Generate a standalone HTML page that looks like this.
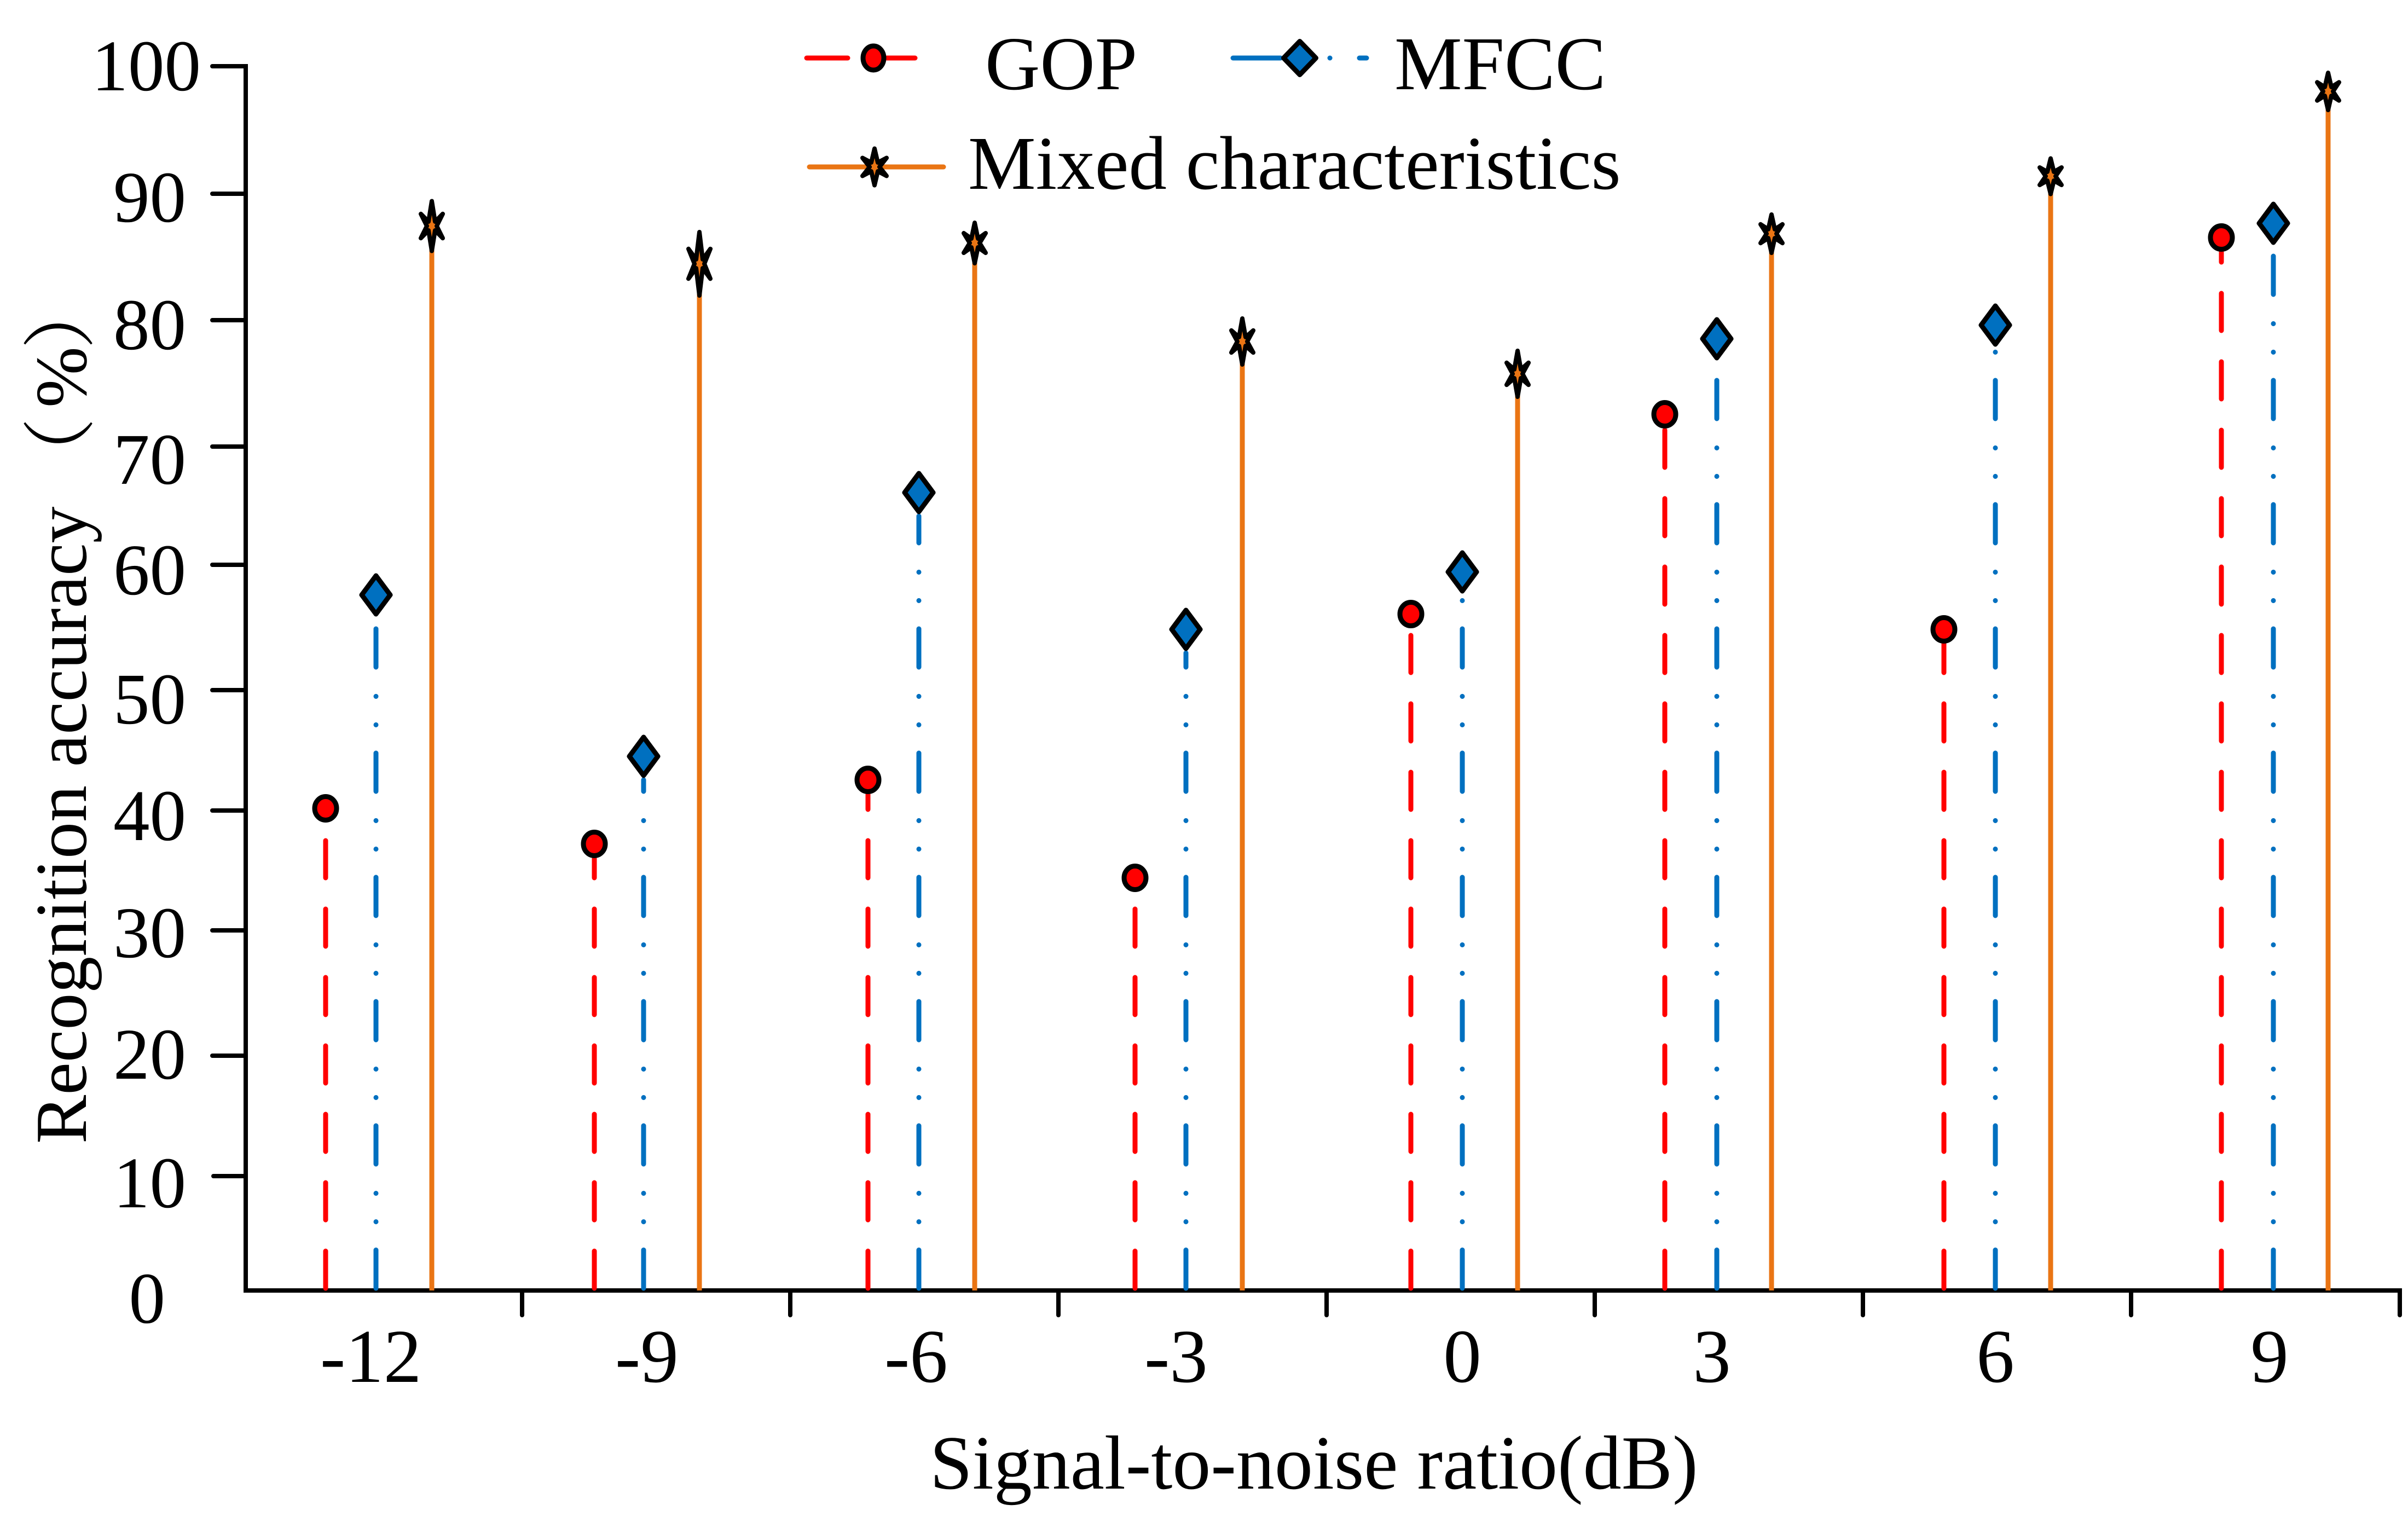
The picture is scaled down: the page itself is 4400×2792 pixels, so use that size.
<!DOCTYPE html>
<html>
<head>
<meta charset="utf-8">
<style>
html,body{margin:0;padding:0;background:#fff;}
svg{display:block;}
text{font-family:"Liberation Serif","Noto Serif CJK SC",serif;fill:#000;}
</style>
</head>
<body>
<svg width="4400" height="2792" viewBox="0 0 4400 2792" xmlns="http://www.w3.org/2000/svg">
<rect x="0" y="0" width="4400" height="2792" fill="#fff"/>

<!-- Axes -->
<g stroke="#000" stroke-width="8" stroke-linecap="round" fill="none">
  <path d="M388 121 H449 V2358 H4385 V2403"/>
  <!-- y ticks -->
  <line x1="388" y1="354" x2="449" y2="354"/>
  <line x1="388" y1="585" x2="449" y2="585"/>
  <line x1="388" y1="816" x2="449" y2="816"/>
  <line x1="388" y1="1032" x2="449" y2="1032"/>
  <line x1="388" y1="1261" x2="449" y2="1261"/>
  <line x1="388" y1="1481" x2="449" y2="1481"/>
  <line x1="388" y1="1700" x2="449" y2="1700"/>
  <line x1="388" y1="1929" x2="449" y2="1929"/>
  <line x1="390" y1="2149" x2="449" y2="2149"/>
  <!-- x ticks -->
  <line x1="954" y1="2358" x2="954" y2="2403"/>
  <line x1="1444" y1="2358" x2="1444" y2="2403"/>
  <line x1="1934" y1="2358" x2="1934" y2="2403"/>
  <line x1="2424" y1="2358" x2="2424" y2="2403"/>
  <line x1="2914" y1="2358" x2="2914" y2="2403"/>
  <line x1="3404" y1="2358" x2="3404" y2="2403"/>
  <line x1="3894" y1="2358" x2="3894" y2="2403"/>
</g>

<!-- Y tick labels -->
<g font-size="133" text-anchor="end">
  <text x="367" y="165">100</text>
  <text x="340" y="405">90</text>
  <text x="340" y="638">80</text>
  <text x="340" y="884">70</text>
  <text x="340" y="1086">60</text>
  <text x="340" y="1322">50</text>
  <text x="340" y="1535">40</text>
  <text x="340" y="1749">30</text>
  <text x="340" y="1971">20</text>
  <text x="340" y="2206">10</text>
  <text x="302" y="2417">0</text>
</g>

<!-- X tick labels -->
<g font-size="139">
  <text x="585" y="2525">-12</text>
  <text x="1124" y="2525">-9</text>
  <text x="1616" y="2525">-6</text>
  <text x="2091" y="2525">-3</text>
  <text x="2672" y="2525" text-anchor="middle">0</text>
  <text x="3128" y="2525" text-anchor="middle">3</text>
  <text x="3646" y="2525" text-anchor="middle">6</text>
  <text x="4147" y="2525" text-anchor="middle">9</text>
</g>

<!-- Axis titles -->
<text x="1699" y="2720" font-size="140">Signal-to-noise ratio(dB)</text>
<text transform="translate(157,2090) rotate(-90)" font-size="134">Recognition accuracy<tspan x="1193">（</tspan><tspan x="1345">%</tspan><tspan x="1452">）</tspan></text>

<!-- Orange stems (Mixed) -->
<g stroke="#EA7514" stroke-width="9" fill="none">
  <line x1="789" y1="2358" x2="789" y2="440"/>
  <line x1="1278" y1="2358" x2="1278" y2="520"/>
  <line x1="1781" y1="2358" x2="1781" y2="470"/>
  <line x1="2270" y1="2358" x2="2270" y2="655"/>
  <line x1="2773" y1="2358" x2="2773" y2="715"/>
  <line x1="3237" y1="2358" x2="3237" y2="455"/>
  <line x1="3747" y1="2358" x2="3747" y2="350"/>
  <line x1="4254" y1="2358" x2="4254" y2="195"/>
</g>

<!-- Red stems (GOP) dashed -->
<g stroke="#FF0000" stroke-width="9" stroke-linecap="round" stroke-dasharray="68 57" fill="none">
  <line x1="595" y1="2354" x2="595" y2="1504"/>
  <line x1="1086" y1="2354" x2="1086" y2="1569"/>
  <line x1="1586" y1="2354" x2="1586" y2="1452"/>
  <line x1="2074" y1="2354" x2="2074" y2="1631"/>
  <line x1="2578" y1="2354" x2="2578" y2="1149"/>
  <line x1="3042" y1="2354" x2="3042" y2="784"/>
  <line x1="3552" y1="2354" x2="3552" y2="1177"/>
  <line x1="4059" y1="2354" x2="4059" y2="461"/>
</g>

<!-- Blue stems (MFCC) dash-dot-dot -->
<g stroke="#0070C0" stroke-width="9" stroke-linecap="round" stroke-dasharray="70 51.5 0.1 51.9 0.1 53.4" fill="none">
  <line x1="687" y1="2354" x2="687" y2="1130"/>
  <line x1="1176" y1="2354" x2="1176" y2="1425"/>
  <line x1="1679" y1="2354" x2="1679" y2="943"/>
  <line x1="2167" y1="2354" x2="2167" y2="1193"/>
  <line x1="2672" y1="2354" x2="2672" y2="1088"/>
  <line x1="3137" y1="2354" x2="3137" y2="662"/>
  <line x1="3646" y1="2354" x2="3646" y2="637"/>
  <line x1="4154" y1="2354" x2="4154" y2="451"/>
</g>

<!-- GOP markers -->
<g fill="#FF0000" stroke="#000" stroke-width="9">
  <ellipse cx="595" cy="1477" rx="20" ry="21.5"/>
  <ellipse cx="1086" cy="1542" rx="20" ry="21.5"/>
  <ellipse cx="1586" cy="1425" rx="20" ry="21.5"/>
  <ellipse cx="2074" cy="1604" rx="20" ry="21.5"/>
  <ellipse cx="2578" cy="1122" rx="20" ry="21.5"/>
  <ellipse cx="3042" cy="757" rx="20" ry="21.5"/>
  <ellipse cx="3552" cy="1150" rx="20" ry="21.5"/>
  <ellipse cx="4059" cy="434" rx="20" ry="21.5"/>
</g>

<!-- MFCC markers -->
<g fill="#0070C0" stroke="#000" stroke-width="9" stroke-linejoin="round">
  <path d="M687 1052 L713 1087 L687 1122 L661 1087 Z"/>
  <path d="M1176 1347 L1202 1382 L1176 1417 L1150 1382 Z"/>
  <path d="M1679 865 L1705 900 L1679 935 L1653 900 Z"/>
  <path d="M2167 1115 L2193 1150 L2167 1185 L2141 1150 Z"/>
  <path d="M2672 1010 L2698 1045 L2672 1080 L2646 1045 Z"/>
  <path d="M3137 584 L3163 619 L3137 654 L3111 619 Z"/>
  <path d="M3646 559 L3672 594 L3646 629 L3620 594 Z"/>
  <path d="M4154 373 L4180 408 L4154 443 L4128 408 Z"/>
</g>

<!-- Mixed markers (stars) -->
<g fill="#EA7514" stroke="#000" stroke-width="8" stroke-linejoin="round">
  <!-- -12: cy 413 h 101 -->
  <path d="M789 367.5 L795 405 L809 390.8 L798 413 L809 435.2 L795 421 L789 458.5 L783 421 L769 435.2 L780 413 L769 390.8 L783 405 Z"/>
  <!-- -9: cy 482 h 124 -->
  <path d="M1278 424 L1284 474 L1298 454.7 L1287 482 L1298 509.3 L1284 490 L1278 540 L1272 490 L1258 509.3 L1269 482 L1258 454.7 L1272 474 Z"/>
  <!-- -6: cy 444 h 82 -->
  <path d="M1781 407 L1787 436 L1801 426 L1790 444 L1801 462 L1787 452 L1781 481 L1775 452 L1761 462 L1772 444 L1761 426 L1775 436 Z"/>
  <!-- -3: cy 624 h 92 -->
  <path d="M2270 582 L2276 616 L2290 603.8 L2279 624 L2290 644.2 L2276 632 L2270 666 L2264 632 L2250 644.2 L2261 624 L2250 603.8 L2264 616 Z"/>
  <!-- 0: cy 683 h 92 -->
  <path d="M2773 641 L2779 675 L2793 662.8 L2782 683 L2793 703.2 L2779 691 L2773 725 L2767 691 L2753 703.2 L2764 683 L2753 662.8 L2767 675 Z"/>
  <!-- 3: cy 427 h 78 -->
  <path d="M3237 392 L3243 419 L3257 409.8 L3246 427 L3257 444.2 L3243 435 L3237 462 L3231 435 L3217 444.2 L3228 427 L3217 409.8 L3231 419 Z"/>
  <!-- 6: cy 322 h 73 -->
  <path d="M3747 289.5 L3753 314 L3767 306 L3756 322 L3767 338 L3753 330 L3747 354.5 L3741 330 L3727 338 L3738 322 L3727 306 L3741 314 Z"/>
  <!-- 9: cy 167 h 76 -->
  <path d="M4254 133 L4260 159 L4274 150.3 L4263 167 L4274 183.7 L4260 175 L4254 201 L4248 175 L4234 183.7 L4245 167 L4234 150.3 L4248 159 Z"/>
</g>

<!-- Legend -->
<g stroke-width="9" stroke-linecap="round" fill="none">
  <line x1="1474" y1="106" x2="1549" y2="106" stroke="#FF0000"/>
  <line x1="1620" y1="106" x2="1672" y2="106" stroke="#FF0000"/>
  <line x1="2253" y1="106" x2="2340" y2="106" stroke="#0070C0"/>
  <line x1="2430" y1="106" x2="2430.1" y2="106" stroke="#0070C0"/>
  <line x1="2484" y1="106" x2="2497" y2="106" stroke="#0070C0"/>
  <line x1="1479" y1="305" x2="1724" y2="305" stroke="#EA7514"/>
</g>
<ellipse cx="1596" cy="106" rx="19" ry="22" fill="#FF0000" stroke="#000" stroke-width="9"/>
<path d="M2375 75.5 L2404.5 106 L2375 136.5 L2345.5 106 Z" fill="#0070C0" stroke="#000" stroke-width="9" stroke-linejoin="round"/>
<path d="M1598 271.5 L1604 297 L1620 288.5 L1607 305 L1620 321.5 L1604 313 L1598 338.5 L1592 313 L1576 321.5 L1589 305 L1576 288.5 L1592 297 Z" fill="#EA7514" stroke="#000" stroke-width="8" stroke-linejoin="round"/>
<g font-size="139">
  <text x="1800" y="163">GOP</text>
  <text x="2548" y="163">MFCC</text>
  <text x="1769" y="345">Mixed characteristics</text>
</g>
</svg>
</body>
</html>
